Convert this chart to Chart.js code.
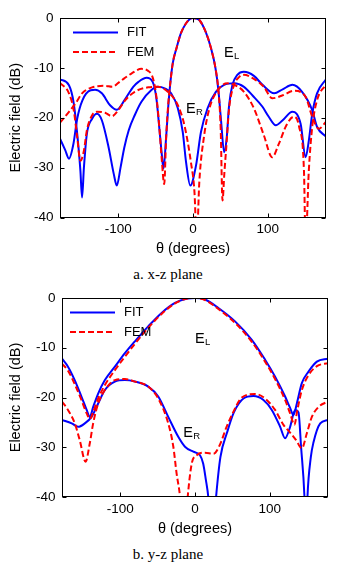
<!DOCTYPE html>
<html>
<head>
  <title>Electric field patterns</title>
  <script src="https://cdn.jsdelivr.net/npm/chart.js"></script>
  <style>
    body { margin: 0; background: #fff; width: 341px; height: 566px; position: relative; overflow: hidden; }
    .plot { position: absolute; left: 0; width: 341px; height: 262px; }
    .plot canvas { display: block; }
    .caption { position: absolute; left: 0; width: 336px; text-align: center; color: #000;
               font: 15px "Liberation Serif", "Times New Roman", serif; line-height: 15px; }
  </style>
</head>
<body>
  <div class="plot" style="top:0"><canvas id="xzChart" width="341" height="262"></canvas></div>
  <div class="caption" style="top:267px">a. x-z plane</div>
  <div class="plot" style="top:280px"><canvas id="yzChart" width="341" height="262"></canvas></div>
  <div class="caption" style="top:547px">b. y-z plane</div>

  <script>
    // tick values shared by both plots
    const thetaTicks = [-100, 0, 100];
    const dbTicks = [-40, -30, -20, -10, 0];

    // a. x-z plane -- E_L
    const xzLFitTheta = [-178,-171,-166,-160,-155,-148,-137,-131,-122,-111,-102,-91,-80,-73,-62,-54,-49,-45,-42,-39.5,-36,-33,-30,-27,-22,-16,-9,-3,0,4,9,17,24,30,34,37.5,41.7,45,48.3,52.8,59.4,68,81.5,93,108.6,120,133,146,159.6,166,178];
    const xzLFitDb    = [-24.2,-26.5,-28.2,-25.2,-20.2,-16.5,-14.5,-14.4,-15.1,-17.5,-18.4,-16.3,-13.8,-12.8,-12.0,-12.8,-16.1,-22.2,-27,-30.2,-24,-17.5,-12.5,-9,-6,-3,-1,-0.1,0,-0.1,-0.5,-2.8,-6,-10,-14.5,-20.5,-26.9,-24.2,-17.5,-13.4,-11.4,-10.8,-11.6,-13.4,-15.1,-14.3,-13.4,-14.8,-18.5,-21.8,-23.8];
    const xzLFemTheta = [-178,-166,-157,-148.5,-135,-118,-108,-100,-92,-82,-69,-60,-55,-51.5,-48,-45,-42,-38.5,-36,-33,-30,-27,-22,-16,-9,-3,0,4,9,17,24,30,34,37,39.5,42,44.5,48.3,55,62,68,81.5,94.8,106,120,135,150.7,159.6,168.4,178];
    const xzLFemDb    = [-21,-18.8,-17.1,-15.1,-13.9,-13.6,-13.8,-13,-12.1,-11.1,-10.2,-10.6,-11.5,-13.4,-17,-22,-28,-33.3,-24.2,-17,-12.5,-9,-6,-3,-1,-0.1,0,-0.1,-0.5,-2.8,-6,-10,-14.5,-22,-36.6,-31,-26,-18.2,-13.4,-11.8,-11.4,-12.2,-13.8,-16.1,-15.5,-14.6,-15.8,-19.8,-22.2,-20.8];

    // a. x-z plane -- E_R
    const xzRFitTheta = [-178,-166,-159.6,-155,-150.7,-148.5,-146,-142,-135,-128.6,-122,-113,-106,-102,-97,-92,-86,-78,-69,-56,-47,-38,-29.3,-20.3,-13.7,-9.3,-3.6,4,10.6,19.5,30.6,41.7,55,68.2,80,93,101.4,110.8,120,133,144,150.7,155,159.6,166,178];
    const xzRFitDb    = [-12.3,-13.5,-17.1,-23.2,-30.6,-36,-30,-23.2,-20.2,-19.2,-20.5,-25.9,-31.3,-33.6,-30,-26,-22.5,-19.5,-16.8,-14.5,-13.8,-14.1,-15.1,-18.1,-22.9,-28.9,-33.6,-29.6,-22.9,-18.1,-14.8,-13.4,-13.1,-13.8,-15.6,-17.8,-19.8,-21.5,-20.5,-18.8,-21.2,-27.9,-24.6,-19.2,-15.1,-12.3];
    const xzRFemTheta = [-178,-166,-159.6,-155,-150.7,-146,-142,-135,-128.6,-117.6,-108.6,-100,-90.8,-78,-60,-47,-33.7,-20.3,-11.5,-2.7,2,5,8.4,15,21.7,32.8,46,55,68.2,81.5,94.8,106,115,125,135,142,148.5,150.7,155,159.6,166,178];
    const xzRFemDb    = [-13.0,-15.1,-18.5,-23.9,-28.6,-26.6,-22.5,-19.5,-18.8,-19,-19.7,-18.5,-16.5,-14.8,-13.9,-13.8,-14.8,-17.5,-21.5,-29,-35,-45,-33,-23.5,-18.3,-14.5,-13.1,-13.4,-14.8,-18.1,-23.5,-27.9,-25.2,-21.5,-19.8,-21.8,-30.6,-45,-30.6,-21.8,-16.5,-13.3];

    // b. y-z plane -- E_L
    const yzLFitTheta = [-178,-170,-161,-152,-145,-140.8,-136.3,-129.6,-120.6,-107.2,-93.8,-80.4,-62.6,-44.7,-26.8,-10,0,13.4,31.3,53.6,76,93.8,107.2,120.6,127,131.8,136.3,143,151.9,163.1,178];
    const yzLFitDb    = [-12.2,-13.8,-16.5,-19.8,-22.5,-23.9,-21.9,-19.2,-16.5,-13.8,-11.1,-8.7,-5.7,-3.0,-1.0,-0.1,0,-0.3,-2.0,-4.7,-8.4,-12.4,-15.8,-19.8,-22,-23.5,-21.2,-17.1,-14.8,-12.8,-12.2];
    const yzLFemTheta = [-178,-170,-161,-152,-145,-140.5,-136,-129.6,-120.6,-107.2,-93.8,-80.4,-62.6,-44.7,-26.8,-10,0,13.4,31.3,53.6,76,93.8,107.2,120.6,128,133,137,143,151.9,163.1,178];
    const yzLFemDb    = [-13.2,-14.6,-17.3,-20.5,-23.2,-24.3,-22.8,-20.2,-17.5,-14.5,-11.8,-9.2,-6,-3.2,-1.1,-0.1,0,-0.4,-2.2,-5,-8.8,-12.8,-16.3,-20.5,-23.5,-25.5,-22.5,-18.5,-15.5,-13.7,-13.1];

    // b. y-z plane -- E_R
    const yzRFitTheta = [-178,-165,-156.4,-147.5,-138.5,-129.6,-120.6,-107.2,-93.8,-80.4,-62.6,-49.2,-35.8,-22.4,-13.4,-2.2,6.7,11,14.5,17.8,23,28.2,34,43,52,64.8,78.2,91.6,102.8,114,120.6,127.3,134,138.5,142,146.5,148.5,150.5,155,158.6,167.6,178];
    const yzRFitDb    = [-24.5,-25.2,-25.9,-25.2,-23.9,-21.2,-18.5,-16.8,-16.5,-16.8,-17.8,-19.8,-23.9,-27.9,-29.9,-30.9,-31.6,-33.3,-36.5,-40,-50,-40,-32,-27,-23,-20.2,-19.7,-20.5,-22.5,-25.9,-28.2,-25.9,-22.5,-23,-30,-40,-50,-40,-32,-29,-25.2,-24.5];
    const yzRFemTheta = [-178,-170,-160.9,-154.2,-146.5,-140.8,-136.3,-129.6,-120.6,-107.2,-93.8,-80.4,-62.6,-49.2,-35.8,-29,-24.6,-20,-15,-9.8,-4.4,2.2,13.4,24.6,33,42,51,62.6,80.4,93.8,107.2,118.4,127,135,143,149.7,156.4,165.3,178];
    const yzRFemDb    = [-20.8,-22.5,-25.2,-28.6,-32.9,-29.2,-25.2,-21.2,-18.5,-16.5,-16.3,-16.8,-17.8,-20.2,-25.2,-29.9,-35.3,-40,-50,-40,-33.3,-31.6,-31.1,-31.3,-29.6,-26,-23,-20,-19.3,-20.2,-22.5,-25.5,-27,-28.5,-30.2,-27.2,-23.9,-21.9,-20.8];

    // E_L / E_R text labels, in data units
    const labelSubs = ['L', 'R'];
    const xzLabelTheta = [41.5, -9.4];
    const xzLabelDb = [-7.9, -19.1];
    const yzLabelTheta = [0, -15.7];
    const yzLabelDb = [-9.0, -27.9];

    const SANS = "'Liberation Sans', Arial, sans-serif";

    function pts(th, db) {
      return th.map((t, i) => ({ x: t, y: db[i] }));
    }

    function curve(label, th, db, fem) {
      return {
        label: label,
        data: pts(th, db),
        borderColor: fem ? '#ff0000' : '#0000ff',
        borderWidth: 2,
        borderDash: fem ? [6, 3] : [],
        pointRadius: 0,
        cubicInterpolationMode: 'monotone',
        fill: false,
        order: fem ? 0 : 1
      };
    }

    // box, inward ticks, FIT/FEM key and the E_L / E_R labels
    const axesBox = {
      id: 'axesBox',
      afterDatasetsDraw(chart, args, opts) {
        const { ctx, chartArea: a, scales } = chart;
        const L = Math.round(a.left) + 0.5, R = Math.round(a.right) - 0.5;
        const T = Math.round(a.top) + 0.5, B = Math.round(a.bottom) - 0.5;
        ctx.save();
        ctx.strokeStyle = '#000';
        ctx.lineWidth = 1;
        ctx.setLineDash([]);
        ctx.strokeRect(L, T, R - L, B - T);
        ctx.beginPath();
        scales.x.ticks.forEach(t => {
          const px = Math.round(scales.x.getPixelForValue(t.value)) + 0.5;
          ctx.moveTo(px, B); ctx.lineTo(px, B - 4);
          ctx.moveTo(px, T); ctx.lineTo(px, T + 4);
        });
        scales.y.ticks.forEach(t => {
          const py = Math.round(scales.y.getPixelForValue(t.value)) + 0.5;
          ctx.moveTo(L, py); ctx.lineTo(L + 4, py);
          ctx.moveTo(R, py); ctx.lineTo(R - 4, py);
        });
        ctx.stroke();

        // key
        const keys = [['FIT', '#0000ff', []], ['FEM', '#ff0000', [6, 3]]];
        ctx.font = '13px ' + SANS;
        ctx.textBaseline = 'middle';
        ctx.textAlign = 'left';
        keys.forEach((k, i) => {
          const y = a.top + opts.keyTop + i * 19.5;
          ctx.beginPath();
          ctx.strokeStyle = k[1];
          ctx.lineWidth = 2;
          ctx.setLineDash(k[2]);
          ctx.moveTo(a.left + opts.keyLeft, y);
          ctx.lineTo(a.left + opts.keyLeft + 45, y);
          ctx.stroke();
          ctx.fillStyle = '#000';
          ctx.fillText(k[0], a.left + opts.keyLeft + 54, y);
        });

        // E_L, E_R
        ctx.textBaseline = 'alphabetic';
        opts.labelTheta.forEach((t, i) => {
          const px = scales.x.getPixelForValue(t);
          const py = scales.y.getPixelForValue(opts.labelDb[i]);
          ctx.font = '14.5px ' + SANS;
          ctx.fillStyle = '#000';
          ctx.fillText('E', px, py);
          const w = ctx.measureText('E').width;
          ctx.font = '9.5px ' + SANS;
          ctx.fillText(labelSubs[i], px + w + 0.3, py + 1.8);
        });
        ctx.restore();
      }
    };

    function makeChart(id, datasets, cfg) {
      const ctx = document.getElementById(id).getContext('2d');
      return new Chart(ctx, {
        type: 'line',
        data: { datasets: datasets },
        plugins: [axesBox],
        options: {
          responsive: false,
          animation: false,
          events: [],
          layout: { padding: { top: 18, right: cfg.padRight, bottom: 0, left: 0 } },
          plugins: {
            legend: { display: false },
            tooltip: { enabled: false },
            axesBox: {
              keyLeft: cfg.keyLeft,
              keyTop: 14.5,
              labelTheta: cfg.labelTheta,
              labelDb: cfg.labelDb
            }
          },
          scales: {
            x: {
              type: 'linear',
              min: -178,
              max: 178,
              grid: { display: false, drawTicks: false },
              border: { display: false },
              afterBuildTicks: s => { s.ticks = thetaTicks.map(v => ({ value: v })); },
              afterFit: s => { s.height = cfg.xHeight; },
              ticks: {
                padding: 4,
                color: '#000',
                font: { family: SANS, size: 13.5 },
                callback: v => String(v)
              },
              title: {
                display: true,
                text: 'θ (degrees)',
                color: '#000',
                font: { family: SANS, size: 14.5 },
                padding: { top: 0, bottom: 4 }
              }
            },
            y: {
              min: -40,
              max: 0,
              grid: { display: false, drawTicks: false },
              border: { display: false },
              afterBuildTicks: s => { s.ticks = dbTicks.map(v => ({ value: v })); },
              afterFit: s => { s.width = cfg.yWidth; },
              ticks: {
                padding: 6.5,
                color: '#000',
                font: { family: SANS, size: 13.5 },
                callback: v => String(v)
              },
              title: {
                display: true,
                text: 'Electric field (dB)',
                color: '#000',
                font: { family: SANS, size: 14.5 },
                padding: { top: 7.3, bottom: 0 }
              }
            }
          }
        }
      });
    }

    makeChart('xzChart', [
      curve('E_L FIT', xzLFitTheta, xzLFitDb, false),
      curve('E_R FIT', xzRFitTheta, xzRFitDb, false),
      curve('E_L FEM', xzLFemTheta, xzLFemDb, true),
      curve('E_R FEM', xzRFemTheta, xzRFemDb, true)
    ], { padRight: 15, yWidth: 60, xHeight: 44.5, keyLeft: 13, labelTheta: xzLabelTheta, labelDb: xzLabelDb });

    makeChart('yzChart', [
      curve('E_L FIT', yzLFitTheta, yzLFitDb, false),
      curve('E_R FIT', yzRFitTheta, yzRFitDb, false),
      curve('E_L FEM', yzLFemTheta, yzLFemDb, true),
      curve('E_R FEM', yzRFemTheta, yzRFemDb, true)
    ], { padRight: 13, yWidth: 62, xHeight: 45, keyLeft: 8, labelTheta: yzLabelTheta, labelDb: yzLabelDb });
  </script>
</body>
</html>
